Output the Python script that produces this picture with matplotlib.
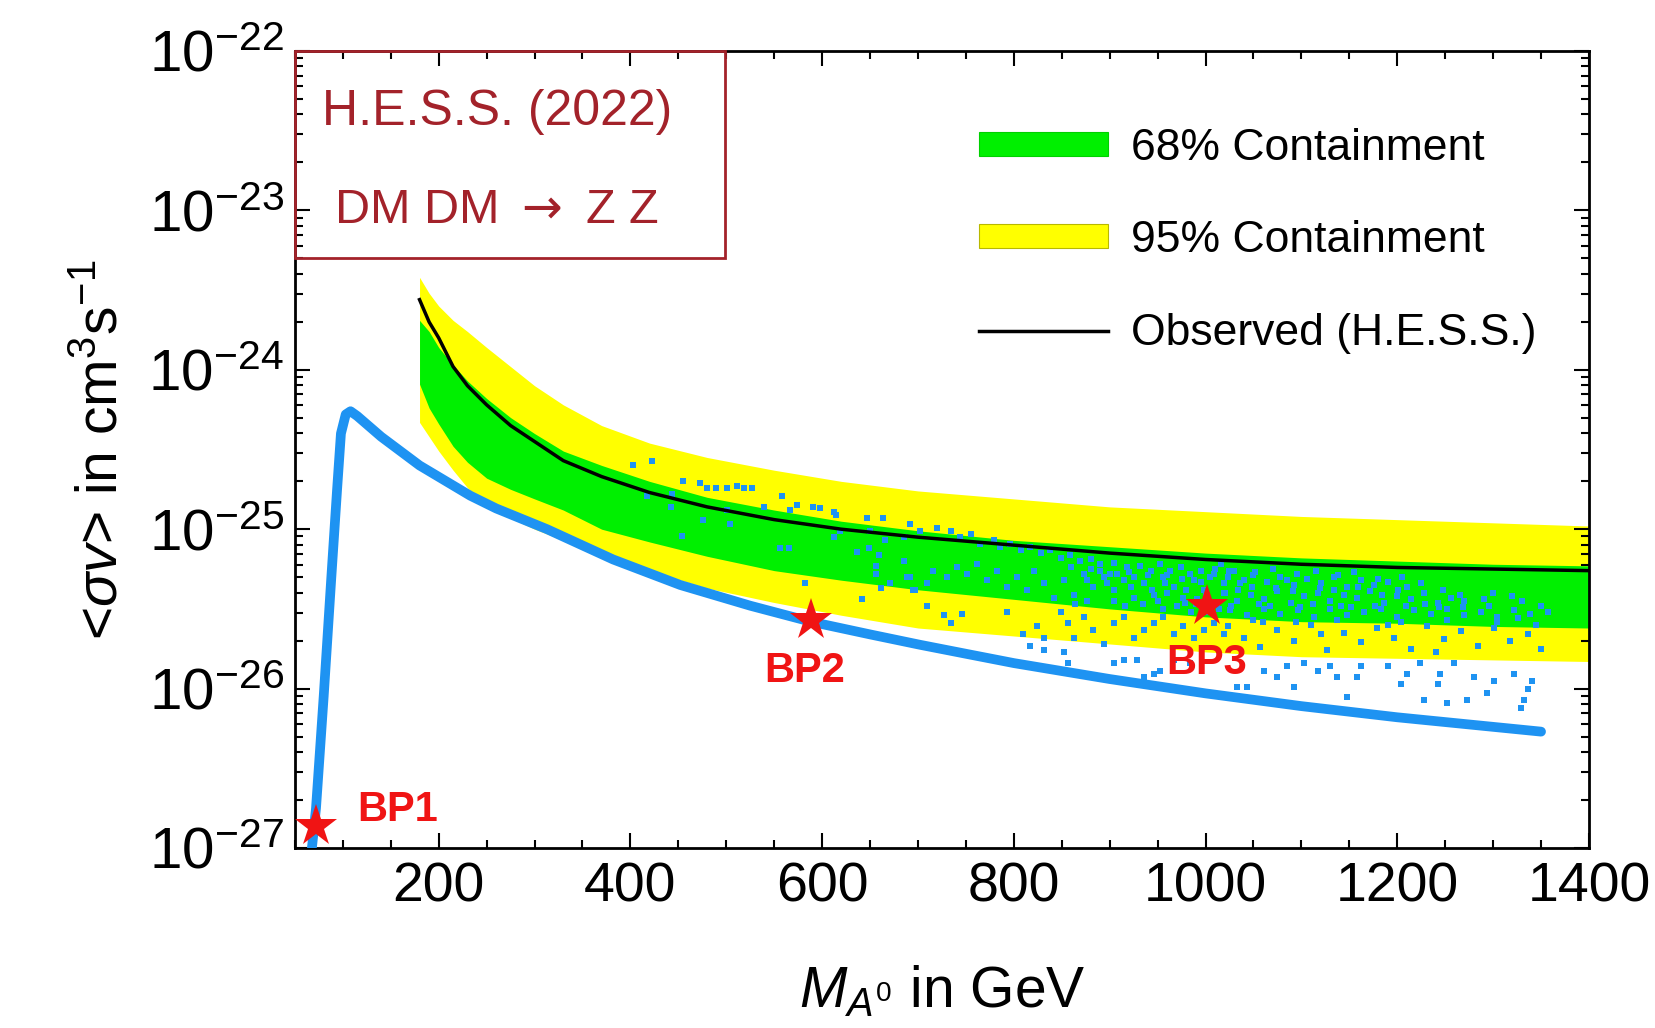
import numpy as np
import matplotlib
matplotlib.use('Agg')
import matplotlib.pyplot as plt
from matplotlib.patches import Patch, Rectangle
from matplotlib.lines import Line2D
from matplotlib.ticker import LogLocator, MultipleLocator, NullFormatter

plt.rcParams['font.family'] = ['Liberation Sans', 'DejaVu Sans']
plt.rcParams['mathtext.fontset'] = 'custom'
plt.rcParams['mathtext.rm'] = 'Liberation Sans'
plt.rcParams['mathtext.it'] = 'Liberation Sans:italic'
plt.rcParams['mathtext.bf'] = 'Liberation Sans:bold'

# H.E.S.S. (2022) limit and expected bands, log10(<sigma v>) vs mass in GeV
band_mass = [180, 190, 200, 215, 230, 250, 275, 300, 330, 370, 420, 480,
             550, 620, 700, 800, 900, 1000, 1100, 1200, 1300, 1400]
observed = [-23.56, -23.70, -23.80, -23.98, -24.10, -24.22, -24.35, -24.45,
            -24.57, -24.67, -24.77, -24.86, -24.94, -25.00, -25.05, -25.10,
            -25.15, -25.19, -25.22, -25.24, -25.25, -25.26]
band68_hi = [-23.69, -23.76, -23.86, -23.97, -24.07, -24.18, -24.30, -24.40,
             -24.51, -24.60, -24.70, -24.80, -24.88, -24.95, -25.01, -25.07,
             -25.11, -25.15, -25.18, -25.20, -25.22, -25.23]
band68_lo = [-24.09, -24.24, -24.34, -24.48, -24.58, -24.68, -24.75, -24.81,
             -24.88, -25.00, -25.08, -25.17, -25.26, -25.32, -25.38, -25.44,
             -25.50, -25.55, -25.58, -25.59, -25.61, -25.62]
band95_hi = [-23.42, -23.52, -23.60, -23.69, -23.76, -23.86, -23.98, -24.10,
             -24.22, -24.35, -24.46, -24.55, -24.63, -24.70, -24.76, -24.81,
             -24.86, -24.89, -24.92, -24.94, -24.96, -24.98]
band95_lo = [-24.33, -24.42, -24.51, -24.63, -24.74, -24.85, -24.93, -25.00,
             -25.07, -25.15, -25.26, -25.37, -25.46, -25.54, -25.62, -25.67,
             -25.72, -25.77, -25.80, -25.81, -25.82, -25.83]

# lower edge of the scan (dense blue band)
edge_mass = [66, 72, 80, 88, 94, 98, 103, 108, 115, 140, 180, 233, 260, 313,
             382, 452, 525, 588, 650, 702, 753, 800, 900, 1000, 1100,
             1200, 1300, 1350]
edge_logsv = [-27.10, -26.75, -26.05, -25.30, -24.75, -24.40, -24.28, -24.26,
              -24.29, -24.42, -24.60, -24.79, -24.87, -25.00, -25.19, -25.35,
              -25.48, -25.58, -25.66, -25.725, -25.785, -25.84, -25.94,
              -26.03, -26.11, -26.18, -26.24, -26.27]

# scattered scan points, 400-700 GeV
scan_a_mass = [403, 422, 455, 473, 480, 489, 501, 511, 518, 527,
               443, 417, 442, 476, 454, 501, 504,
               558, 539, 567, 574, 591, 598, 612, 614, 619, 612,
               647, 664, 650, 666, 692, 685, 556, 565, 582,
               636, 649, 659, 656, 656, 671, 685, 692, 697, 642, 661]
scan_a_logsv = [-24.60, -24.57, -24.70, -24.71, -24.74, -24.74, -24.74, -24.73, -24.74, -24.74,
                -24.78, -24.79, -24.86, -24.94, -25.04, -24.88, -24.97,
                -24.79, -24.86, -24.88, -24.85, -24.86, -24.87, -24.89, -24.91, -25.01, -25.05,
                -24.93, -24.93, -25.01, -25.07, -24.97, -25.05, -25.12, -25.12, -25.34,
                -25.14, -25.12, -25.16, -25.23, -25.28, -25.34, -25.20, -25.30, -25.38, -25.44, -25.37]

# scan points, 680-1025 GeV
scan_b_mass = [692, 702, 720, 734, 744, 755, 765, 779, 786, 796, 807, 817, 828, 838,
               849, 859, 869, 880, 890, 904, 918, 932,
               689, 695, 709, 716, 730, 741, 751, 762, 772, 782, 793, 803, 814, 821,
               831, 842, 852, 863, 873, 883, 894, 904, 915, 925, 936, 946, 956, 967,
               977, 988, 998, 1009, 1019,
               943, 953, 963, 974, 984, 995, 1005, 1016, 1024, 890, 908, 925, 897, 876,
               709, 727, 734, 746, 793, 810, 824, 831, 849, 856, 863, 873, 883, 894,
               904, 915, 925, 936, 946, 956, 967, 977, 988, 998, 1009, 1019,
               817, 831, 852, 856, 904, 915, 929, 936, 946, 953, 967, 984,
               950, 960, 970, 980, 990, 1000, 1012, 1020, 935, 922, 958, 985, 1003]
scan_b_logsv = [-24.97, -25.01, -24.99, -25.01, -25.05, -25.03, -25.09, -25.07, -25.11,
                -25.09, -25.13, -25.11, -25.15, -25.13, -25.18, -25.16, -25.20, -25.19,
                -25.22, -25.21, -25.24, -25.23,
                -25.30, -25.38, -25.34, -25.26, -25.30, -25.24, -25.28, -25.22, -25.32,
                -25.26, -25.36, -25.30, -25.38, -25.26, -25.34, -25.43, -25.32, -25.41,
                -25.28, -25.36, -25.30, -25.38, -25.32, -25.43, -25.34, -25.41, -25.30,
                -25.36, -25.43, -25.32, -25.38, -25.28, -25.34,
                -25.26, -25.22, -25.26, -25.24, -25.28, -25.26, -25.30, -25.22, -25.26,
                -25.26, -25.28, -25.30, -25.34, -25.32,
                -25.48, -25.54, -25.59, -25.53, -25.52, -25.66, -25.61, -25.68, -25.52,
                -25.59, -25.68, -25.55, -25.63, -25.72, -25.59, -25.55, -25.68, -25.63,
                -25.59, -25.55, -25.66, -25.61, -25.68, -25.63, -25.59, -25.66,
                -25.73, -25.76, -25.77, -25.84, -25.84, -25.82, -25.82, -25.93, -25.91,
                -25.89, -25.82, -25.84,
                -25.45, -25.40, -25.48, -25.38, -25.47, -25.42, -25.46, -25.40, -25.47,
                -25.36, -25.34, -25.52, -25.52]

# scan points, 1020-1360 GeV
scan_c_mass = [1023, 1036, 1050, 1064, 1078, 1092, 1106, 1120, 1134, 1148, 1162, 1176,
               1190, 1210, 1040, 1085,
               1019, 1033, 1047, 1061, 1075, 1089, 1103, 1117, 1130, 1144, 1158, 1172,
               1186, 1200, 1214, 1228, 1242, 1256, 1270, 1290, 1320,
               1026, 1043, 1061, 1078, 1096, 1113, 1130, 1148, 1165, 1183, 1200, 1217,
               1235, 1252, 1270, 1287, 1304, 1322, 1339, 1357,
               1023, 1040, 1057, 1075, 1092, 1110, 1127, 1144, 1162, 1179, 1197, 1214,
               1231, 1249, 1266, 1284, 1301, 1318, 1336, 1350, 1345, 1060, 1120, 1190, 1240,
               1033, 1043, 1061, 1075, 1085, 1092, 1103, 1117, 1130, 1137, 1148, 1158,
               1162, 1190, 1204, 1210, 1224, 1228, 1242, 1245, 1252, 1259, 1273, 1280,
               1294, 1301, 1322, 1332, 1336, 1341, 1329]
scan_c_logsv = [-25.30, -25.34, -25.29, -25.33, -25.30, -25.35, -25.31, -25.34, -25.30,
                -25.36, -25.32, -25.35, -25.33, -25.36, -25.32, -25.32,
                -25.40, -25.45, -25.41, -25.44, -25.39, -25.46, -25.42, -25.40, -25.45,
                -25.41, -25.43, -25.39, -25.46, -25.42, -25.44, -25.40, -25.46, -25.43,
                -25.45, -25.44, -25.42,
                -25.51, -25.54, -25.50, -25.53, -25.51, -25.55, -25.50, -25.54, -25.52,
                -25.50, -25.55, -25.51, -25.53, -25.50, -25.54, -25.52, -25.55, -25.51,
                -25.53, -25.52,
                -25.61, -25.68, -25.74, -25.63, -25.70, -25.60, -25.76, -25.65, -25.71,
                -25.62, -25.68, -25.75, -25.61, -25.69, -25.64, -25.73, -25.62, -25.70,
                -25.66, -25.75, -25.60, -25.58, -25.66, -25.60, -25.77,
                -25.99, -25.99, -25.89, -25.93, -25.86, -25.99, -25.84, -25.89, -25.86,
                -25.93, -26.05, -25.93, -25.86, -25.86, -25.97, -25.91, -25.84, -26.07,
                -25.97, -25.91, -26.09, -25.84, -26.07, -25.93, -26.03, -25.95, -25.91,
                -26.07, -26.00, -25.95, -26.12]

# densest part of the scan, 860-1350 GeV
scan_d_mass = [1030, 1034, 1027, 1052, 1048, 1056, 1050, 1070, 1074, 1067,
               1095, 1091, 1099, 1094, 1115, 1119, 1112, 1138, 1134, 1141, 1137,
               1155, 1159, 1152, 1180, 1184, 1177, 1205, 1201, 1209, 1204,
               1225, 1229, 1248, 1244, 1252, 1265, 1269, 1300, 1296, 1304,
               1330, 1326, 1350, 860, 864, 880, 876, 900, 904, 920, 916,
               940, 944, 960, 956, 975, 979, 995, 991, 1010, 1014]
scan_d_logsv = [-25.26, -25.38, -25.48, -25.27, -25.36, -25.47, -25.57, -25.25, -25.37, -25.48,
                -25.28, -25.39, -25.49, -25.58, -25.26, -25.37, -25.47, -25.29, -25.38,
                -25.48, -25.57, -25.27, -25.36, -25.49, -25.31, -25.41, -25.48, -25.30,
                -25.38, -25.48, -25.58, -25.34, -25.47, -25.38, -25.49, -25.57, -25.41,
                -25.49, -25.40, -25.48, -25.58, -25.45, -25.56, -25.48,
                -25.24, -25.47, -25.25, -25.45, -25.28, -25.45, -25.27, -25.48,
                -25.29, -25.38, -25.29, -25.50, -25.31, -25.46, -25.33, -25.44, -25.25, -25.50]

# benchmark points
bp_names = ['BP1', 'BP2', 'BP3']
bp_mass = [72, 588, 1001]
bp_logsv = [-26.86, -25.57, -25.48]
bp_label_offset = [(30, 11, 'left'), (-4, -37, 'center'), (0, -41, 'center')]

blue = '#1e93f2'
dark_red = '#a3222a'

fig = plt.figure(figsize=(16.55, 10.28), dpi=100)
ax = fig.add_axes([0.1782, 0.1751, 0.7819, 0.7753])

bm = np.array(band_mass)
ax.fill_between(bm, 10 ** np.array(band95_lo), 10 ** np.array(band95_hi),
                color='#ffff00', lw=0, zorder=1)
ax.fill_between(bm, 10 ** np.array(band68_lo), 10 ** np.array(band68_hi),
                color='#00f000', lw=0, zorder=2)

ax.plot(edge_mass, 10 ** np.array(edge_logsv), color=blue, lw=7,
        solid_capstyle='round', solid_joinstyle='round', zorder=3)
for m, s in [(scan_a_mass, scan_a_logsv), (scan_b_mass, scan_b_logsv),
             (scan_c_mass, scan_c_logsv), (scan_d_mass, scan_d_logsv)]:
    ax.scatter(m, 10 ** np.array(s), s=16, marker='s', color=blue, lw=0, zorder=4)

ax.plot(bm, 10 ** np.array(observed), color='black', lw=2.5, zorder=5)

for name, m, s, (dx, dy, ha) in zip(bp_names, bp_mass, bp_logsv, bp_label_offset):
    ax.plot(m, 10 ** s, marker='*', ms=32, color='#f01414', mew=0, zorder=6)
    ax.annotate(name, (m, 10 ** s), xytext=(dx, dy), textcoords='offset points',
                ha=ha, va='center', fontsize=30, fontweight='bold',
                color='#f01414', zorder=7)

ax.set_yscale('log')
ax.set_xlim(50, 1400)
ax.set_ylim(1e-27, 1e-22)

ax.xaxis.set_major_locator(MultipleLocator(200))
ax.xaxis.set_minor_locator(MultipleLocator(50))
ax.set_yticks(10.0 ** np.arange(-27, -21))
ax.yaxis.set_minor_locator(LogLocator(base=10, subs=np.arange(2, 10), numticks=20))
ax.yaxis.set_minor_formatter(NullFormatter())

ax.tick_params(which='both', direction='in', top=True, right=True, width=1.5)
ax.tick_params(which='major', length=11)
ax.tick_params(which='minor', length=6)
ax.tick_params(axis='x', pad=10, labelsize=40)
ax.tick_params(axis='y', pad=8, labelsize=42)
for sp in ax.spines.values():
    sp.set_linewidth(2)

ax.set_xlabel(r'$M_{A^0}$ in GeV', fontsize=41)
ax.xaxis.set_label_coords(0.5, -0.145)
ax.set_ylabel(r'<$\sigma v$> in cm$^3$s$^{-1}$', fontsize=41)
ax.yaxis.set_label_coords(-0.128, 0.5)

# experiment box in the upper left corner
ax.add_patch(Rectangle((0, 0.74), 0.332, 0.26, transform=ax.transAxes,
                       fill=False, edgecolor=dark_red, lw=2, zorder=8,
                       clip_on=False))
ax.text(0.156, 0.923, 'H.E.S.S. (2022)', transform=ax.transAxes, ha='center',
        va='center', fontsize=36, color=dark_red)
ax.text(0.156, 0.800, r'DM DM $\rightarrow$ Z Z', transform=ax.transAxes,
        ha='center', va='center', fontsize=35, color=dark_red,
        math_fontfamily='dejavusans')

handles = [Patch(facecolor='#00f000', edgecolor='#00d000', lw=0.8),
           Patch(facecolor='#ffff00', edgecolor='#b8b800', lw=0.8),
           Line2D([], [], color='black', lw=2.5)]
labels = ['68% Containment', '95% Containment', 'Observed (H.E.S.S.)']
ax.legend(handles, labels, loc='upper left', bbox_to_anchor=(0.529, 0.904),
          frameon=False, fontsize=32, handlelength=2.9, handleheight=0.45,
          handletextpad=0.5, labelspacing=1.16, borderpad=0, borderaxespad=0)

fig.savefig('out.png', dpi=100)
